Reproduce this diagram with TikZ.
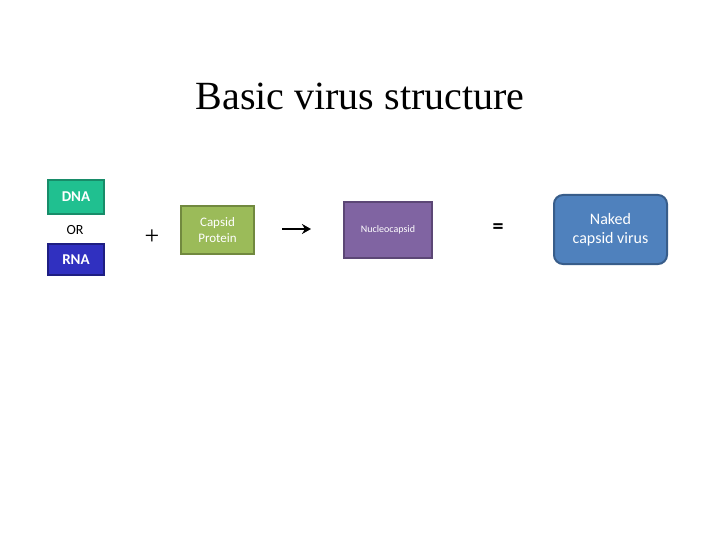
\documentclass[tikz,border=0pt]{standalone}
\usepackage{fontspec}
\usetikzlibrary{arrows.meta}
\setmainfont{Carlito}
\newfontfamily\titlefont{Liberation Serif}
\begin{document}
\begin{tikzpicture}[x=1pt,y=-1pt,
  box/.style={draw,line width=2pt,inner sep=0pt,anchor=north west,align=center,text=white},
  sym/.style={font=\fontsize{22}{24}\selectfont}]
\useasboundingbox (0,0) rectangle (720,540);
\node[font=\titlefont\fontsize{40}{44}\selectfont] (title) at (360,96) {Basic virus structure};
\node[box,fill={rgb,255:red,32;green,192;blue,144},draw={rgb,255:red,24;green,140;blue,105},minimum width=56pt,minimum height=34pt,font=\bfseries\fontsize{15}{17}\selectfont] (dna) at (47,179) {DNA};
\node[font=\fontsize{14}{16}\selectfont] (or) at (75,230) {OR};
\node[box,fill={rgb,255:red,48;green,48;blue,192},draw={rgb,255:red,30;green,30;blue,130},minimum width=56pt,minimum height=31pt,font=\bfseries\fontsize{15}{17}\selectfont] (rna) at (47,243) {RNA};
\node[sym,font=\titlefont\fontsize{26}{28}\selectfont] (plus) at (152,237) {+};
\node[box,fill={rgb,255:red,155;green,187;blue,89},draw={rgb,255:red,113;green,137;blue,63},minimum width=73pt,minimum height=48pt,font=\fontsize{13}{16}\selectfont] (cap) at (180,205) {Capsid\\Protein};
\coordinate (a1) at (282,229);
\coordinate (a2) at (311,229);
\draw[line width=2.5pt,-{Stealth[length=9pt,width=10pt]}] (a1) -- (a2);
\node[box,fill={rgb,255:red,128;green,100;blue,162},draw={rgb,255:red,92;green,71;blue,118},minimum width=88pt,minimum height=56pt,font=\fontsize{10}{12}\selectfont] (nuc) at (343,201) {Nucleocapsid};
\node[font=\bfseries\fontsize{22}{24}\selectfont] (eq) at (498,229) {=};
\node[box,rounded corners=9pt,fill={rgb,255:red,79;green,129;blue,189},draw={rgb,255:red,56;green,93;blue,138},minimum width=113pt,minimum height=69pt,font=\fontsize{16}{19}\selectfont] (naked) at (553,194) {Naked\\capsid virus};
\end{tikzpicture}
\end{document}
